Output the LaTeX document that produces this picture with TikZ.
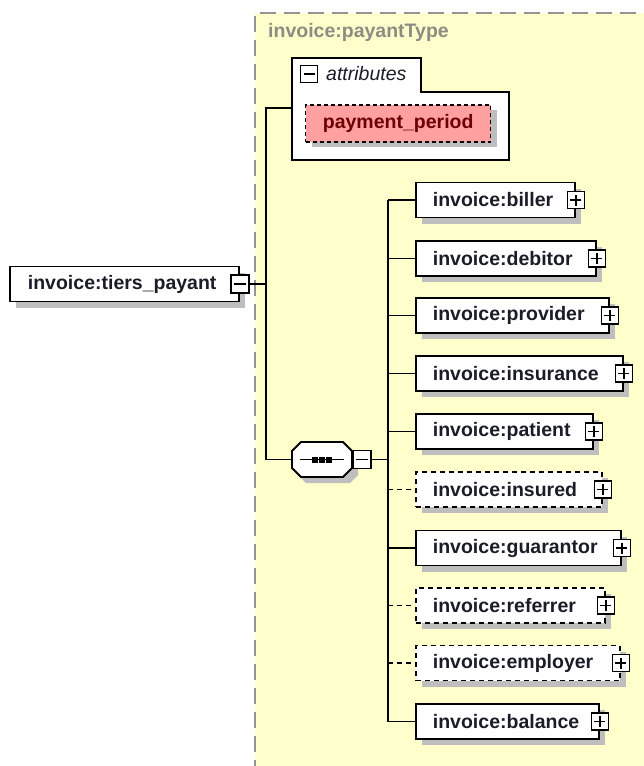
\documentclass[tikz,border=0pt]{standalone}
\usepackage{fontspec}
\setmainfont{Liberation Sans}
\usetikzlibrary{shadows,calc}
\definecolor{bgyellow}{RGB}{255,255,204}
\definecolor{bordergray}{RGB}{150,150,150}
\definecolor{shadowc}{RGB}{190,190,190}
\definecolor{txt}{RGB}{28,28,40}
\definecolor{typegray}{RGB}{140,140,130}
\definecolor{attrpink}{RGB}{255,160,160}
\definecolor{attrtxt}{RGB}{110,0,0}
\newcommand{\elfont}{\fontsize{19.5}{23}\selectfont\bfseries}
\tikzset{
  conn/.style={line width=1.8pt, draw=black},
  optline/.style={dash pattern=on 5pt off 4pt},
  elem/.style={draw=black, line width=1.8pt, fill=white, minimum height=35pt,
    inner ysep=0pt, inner xsep=17pt, align=left, anchor=west, font=\elfont, text=txt,
    drop shadow={shadow xshift=6pt, shadow yshift=-6pt, fill=shadowc, draw=none, opacity=1}},
  pmbase/.style={draw=black, fill=white, line width=1.4pt, minimum size=17pt, inner sep=0pt},
  plusbox/.style={pmbase, path picture={
    \draw[line width=1.4pt] ([xshift=3pt]path picture bounding box.west) -- ([xshift=-3pt]path picture bounding box.east);
    \draw[line width=1.4pt] ([yshift=-3pt]path picture bounding box.north) -- ([yshift=3pt]path picture bounding box.south);}},
  minusbox/.style={pmbase, path picture={
    \draw[line width=1.4pt] ([xshift=3pt]path picture bounding box.west) -- ([xshift=-3pt]path picture bounding box.east);}},
}
\begin{document}
\begin{tikzpicture}[x=1pt, y=-1pt]
\useasboundingbox (0,0) rectangle (643,766);
% complex type region
\fill[bgyellow] (255,13) rectangle (660,780);
\draw[bordergray, line width=1.3pt, dash pattern=on 16pt off 8pt] (660,13) -- (255,13) -- (255,780);
\node[anchor=west, font=\elfont, text=typegray, inner sep=0pt] (typename) at (268,32) {invoice:payantType};

% attributes box
\draw[line width=1.8pt, fill=white] (292,58) -- (421,58) -- (421,92) -- (509,92) -- (509,160) -- (292,160) -- cycle;
\coordinate (attrin) at (292,108);
\node[minusbox] (attrpm) at (309,74) {};
\node[anchor=west, inner sep=0pt, font=\fontsize{19.5}{23}\selectfont\itshape, text=txt] (attrlabel) at (326,74) {attributes};
\node[draw=black, line width=1.4pt, dash pattern=on 4pt off 3pt, fill=attrpink,
  minimum width=185pt, minimum height=37pt, inner sep=0pt, anchor=west, font=\elfont, text=attrtxt,
  drop shadow={shadow xshift=6pt, shadow yshift=-5pt, fill=shadowc, draw=none, opacity=1}]
  (payment) at (305,123.5) {payment\_period};

% root element
\node[elem, inner xsep=18pt, text width=193pt] (root) at (9,284) {invoice:tiers\_payant};
\node[minusbox, minimum size=18pt] (rootpm) at (root.east) {};

% sequence compositor
\node[minimum width=60pt, minimum height=35pt, inner sep=0pt] (seq) at (322,459.5) {};
\begin{scope}[shift={(seq.center)}]
  \fill[shadowc] (-22,-11.5) -- (28,-11.5) -- (36,-3.5) -- (36,15.5) -- (28,23.5) -- (-16,23.5) -- (-24,15.5) -- (-24,-3.5) -- cycle;
  \draw[line width=1.8pt, fill=white] (-21,-17.5) -- (21,-17.5) -- (30,-8.5) -- (30,8.5) -- (21,17.5) -- (-21,17.5) -- (-30,8.5) -- (-30,-8.5) -- cycle;
  \draw[line width=1.4pt] (-22,0) -- (22,0);
  \foreach \dx in {-7,0,7} \fill (\dx-3,-3) rectangle (\dx+3,3);
\end{scope}
\node[minusbox, minimum size=18pt, anchor=west] (seqpm) at (seq.east) {};

% children
\node[elem, text width=125pt] (biller) at (415,200) {invoice:biller};
\node[elem, text width=146pt] (debitor) at (415,258.5) {invoice:debitor};
\node[elem, text width=159pt] (provider) at (415,315.5) {invoice:provider};
\node[elem, text width=173pt] (insurance) at (415,373.5) {invoice:insurance};
\node[elem, text width=143pt] (patient) at (415,431.5) {invoice:patient};
\node[elem, optline, text width=152pt] (insured) at (415,489.5) {invoice:insured};
\node[elem, text width=171pt] (guarantor) at (415,548) {invoice:guarantor};
\node[elem, optline, text width=155pt] (referrer) at (415,605.5) {invoice:referrer};
\node[elem, optline, text width=170pt] (employer) at (415,663) {invoice:employer};
\node[elem, text width=149pt] (balance) at (415,721.5) {invoice:balance};
\foreach \n in {biller,debitor,provider,insurance,patient,insured,guarantor,referrer,employer,balance}
  \node[plusbox] (\n pm) at (\n.east) {};

% connectors
\coordinate (j1) at (266,284);
\coordinate (j2) at (388,459.5);
\draw[conn] (rootpm.east) -- (j1);
\draw[conn] (j1) |- (attrin);
\draw[conn] (j1) |- (seq.west);
\draw[conn] (seqpm.east) -- (j2);
\draw[conn] (j2 |- biller.west) -- (j2 |- balance.west);
\foreach \n in {biller,debitor,provider,insurance,patient,guarantor,balance}
  \draw[conn] (j2 |- \n.west) -- (\n.west);
\foreach \n in {insured,referrer,employer}
  \draw[conn, optline] (j2 |- \n.west) -- (\n.west);
\end{tikzpicture}
\end{document}
